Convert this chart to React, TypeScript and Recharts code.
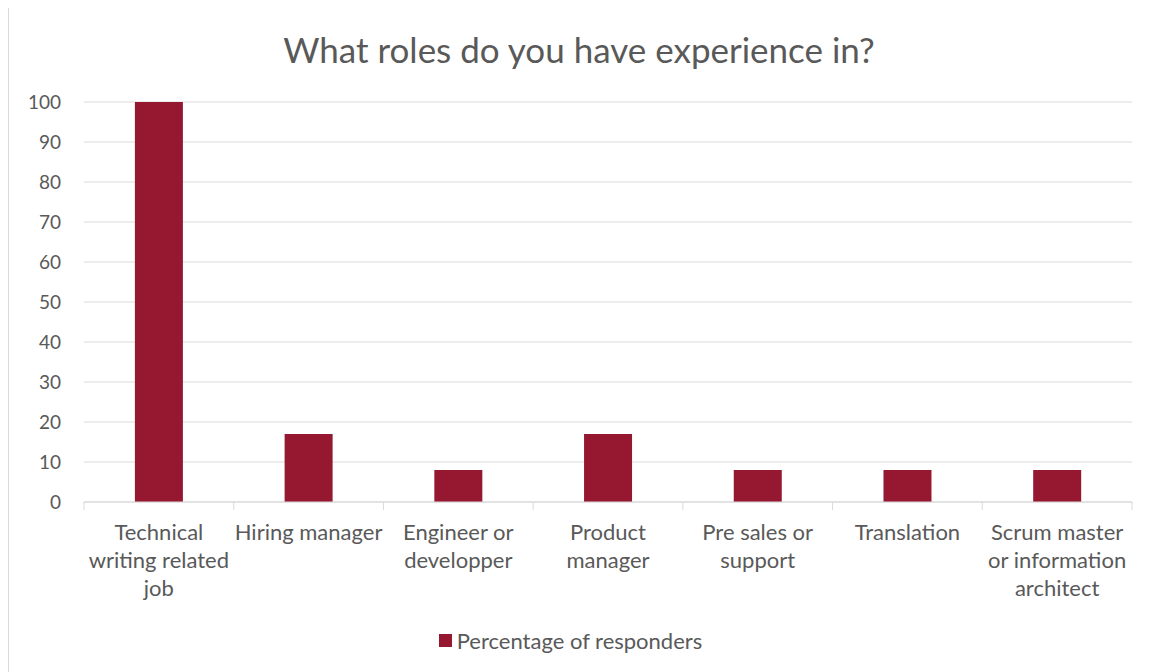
import React from 'react'
import { BarChart, Bar, XAxis, YAxis, CartesianGrid, Legend } from 'recharts'

const categories = [
  'Technical writing related job',
  'Hiring manager',
  'Engineer or developper',
  'Product manager',
  'Pre sales or support',
  'Translation',
  'Scrum master or information architect',
]

const tickLines = [
  ['Technical', 'writing related', 'job'],
  ['Hiring manager'],
  ['Engineer or', 'developper'],
  ['Product', 'manager'],
  ['Pre sales or', 'support'],
  ['Translation'],
  ['Scrum master', 'or information', 'architect'],
]

const percentages = [100, 17, 8, 17, 8, 8, 8]

const yTicks = [0, 10, 20, 30, 40, 50, 60, 70, 80, 90, 100]

const data = categories.map((c, i) => ({ category: c, value: percentages[i] }))

const FONT = '"Lato", "Open Sans", sans-serif'
const TEXT = '#595959'
const GRID = '#d9d9d9'
const BAR = '#951830'

const W = 1140
const H = 666
const MARGIN = { top: 96, right: 17, bottom: 12, left: 0 }
const Y_WIDTH = 75
const BAND = (W - MARGIN.left - Y_WIDTH - MARGIN.right) / categories.length

function CategoryTick(props: any) {
  const { x, y, index, payload } = props
  const lines = tickLines[index] ?? [String(payload.value)]
  const last = index === categories.length - 1
  return (
    <g>
      <line x1={x - BAND / 2} x2={x - BAND / 2} y1={y - 8} y2={y} stroke={GRID} />
      {last && <line x1={x + BAND / 2} x2={x + BAND / 2} y1={y - 8} y2={y} stroke={GRID} />}
      <text x={x} y={y} textAnchor="middle" fill={TEXT} fontSize={22} fontFamily={FONT}>
        {lines.map((l, i) => (
          <tspan key={i} x={x} dy={i === 0 ? 30 : 28}>{l}</tspan>
        ))}
      </text>
    </g>
  )
}

function LegendContent() {
  return (
    <div style={{ height: 40, display: 'flex', alignItems: 'center', justifyContent: 'center', fontFamily: FONT, fontSize: 22, color: TEXT }}>
      <span style={{ display: 'inline-block', width: 13, height: 13, background: BAR, marginRight: 5 }} />
      Percentage of responders
    </div>
  )
}

export default function App() {
  return (
    <div style={{ position: 'relative', width: W, height: H, border: `1px solid ${GRID}`, marginTop: -3, background: '#fff' }}>
      <div style={{ position: 'absolute', top: 23, left: 0, width: W, textAlign: 'center', fontFamily: FONT, fontSize: 35, color: TEXT, lineHeight: '40px' }}>
        What roles do you have experience in?
      </div>
      <BarChart width={W} height={H} data={data} margin={MARGIN} barCategoryGap="34%">
        <CartesianGrid vertical={false} stroke={GRID} />
        <XAxis
          dataKey="category"
          interval={0}
          height={118}
          stroke={GRID}
          tickLine={false}
          tick={<CategoryTick />}
        />
        <YAxis
          width={Y_WIDTH}
          domain={[0, 100]}
          ticks={yTicks}
          axisLine={false}
          tickLine={false}
          tickMargin={17}
          tick={{ fill: TEXT, fontSize: 19, fontFamily: FONT }}
        />
        <Legend verticalAlign="bottom" content={<LegendContent />} />
        <Bar dataKey="value" fill={BAR} isAnimationActive={false} />
      </BarChart>
    </div>
  )
}
